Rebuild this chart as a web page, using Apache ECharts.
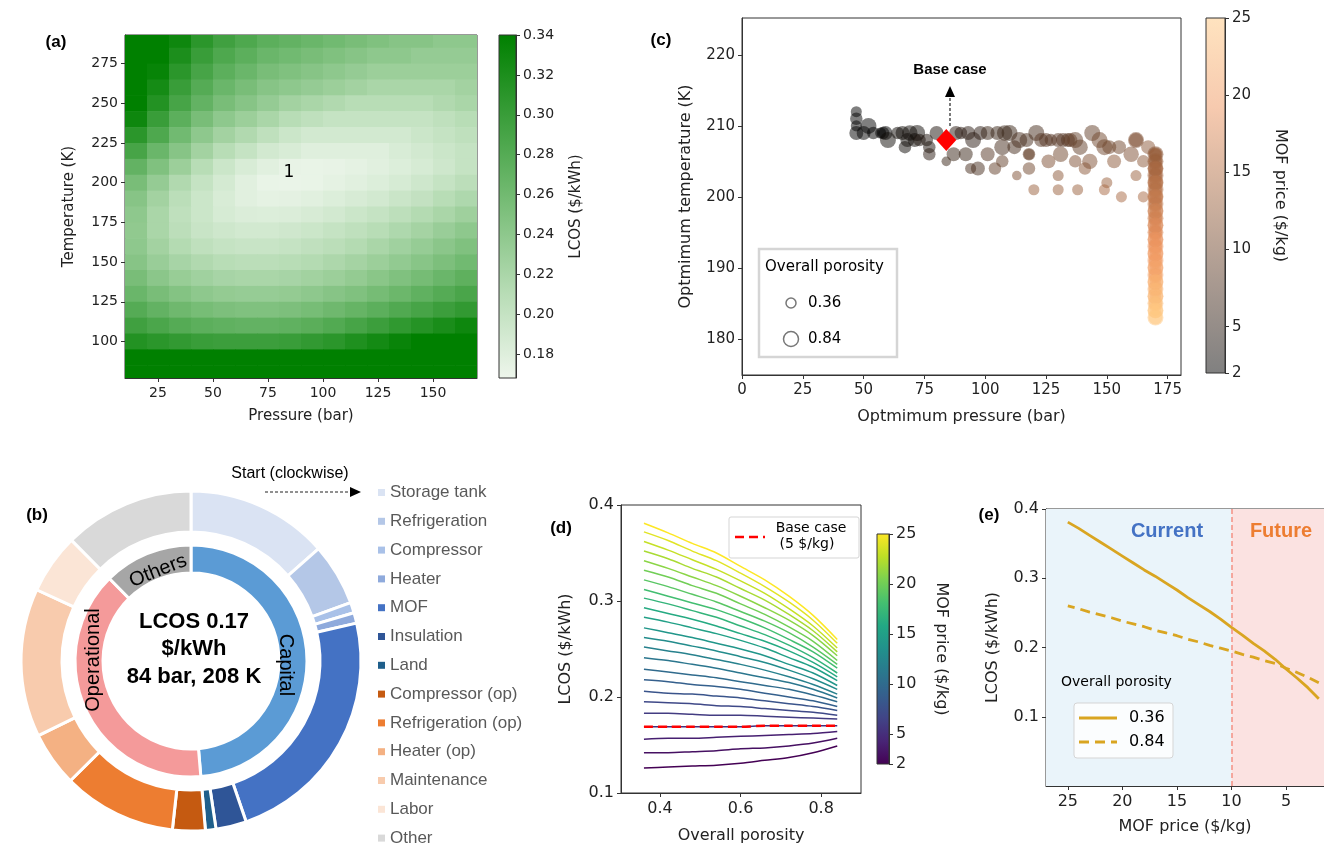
<!DOCTYPE html>
<html><head><meta charset="utf-8">
<script src="https://cdn.jsdelivr.net/npm/echarts@6.0.0/dist/echarts.min.js"></script>
<style>html,body{margin:0;padding:0;background:#fff;}#chart{width:1324px;height:845px;}</style>
</head><body><div id="chart"></div>
<script>
// ================= DATA =================
// (a) LCOS map: rows = temperature (K), columns = pressure (bar)
const aPressure = [15,25,35,45,55,65,75,85,95,105,115,125,135,145,155,165];
const aTemperature = [290,280,270,260,250,240,230,220,210,200,190,180,170,160,150,140,130,120,110,100,90,80];
const aLCOS = [
 [0.34,0.34,0.33,0.31,0.295,0.285,0.275,0.27,0.265,0.26,0.255,0.25,0.245,0.245,0.24,0.24],
 [0.34,0.34,0.32,0.30,0.285,0.275,0.265,0.26,0.255,0.25,0.245,0.24,0.24,0.235,0.235,0.235],
 [0.34,0.335,0.31,0.29,0.275,0.265,0.255,0.25,0.245,0.24,0.235,0.23,0.23,0.23,0.23,0.23],
 [0.34,0.325,0.30,0.28,0.265,0.255,0.245,0.24,0.235,0.23,0.225,0.22,0.22,0.22,0.22,0.225],
 [0.34,0.315,0.29,0.27,0.255,0.245,0.235,0.225,0.22,0.215,0.21,0.21,0.21,0.21,0.215,0.22],
 [0.33,0.30,0.275,0.255,0.24,0.23,0.22,0.21,0.205,0.20,0.20,0.20,0.20,0.20,0.205,0.21],
 [0.31,0.285,0.26,0.24,0.225,0.215,0.205,0.195,0.19,0.19,0.19,0.19,0.19,0.195,0.20,0.205],
 [0.29,0.265,0.245,0.225,0.21,0.20,0.19,0.185,0.18,0.18,0.18,0.18,0.185,0.19,0.195,0.20],
 [0.27,0.25,0.23,0.21,0.195,0.185,0.178,0.173,0.172,0.173,0.175,0.178,0.182,0.187,0.193,0.20],
 [0.255,0.235,0.215,0.20,0.188,0.178,0.172,0.171,0.172,0.175,0.178,0.182,0.187,0.193,0.20,0.207],
 [0.245,0.225,0.208,0.195,0.185,0.178,0.175,0.176,0.178,0.182,0.186,0.19,0.196,0.202,0.21,0.217],
 [0.24,0.22,0.205,0.195,0.187,0.183,0.182,0.183,0.186,0.19,0.195,0.20,0.206,0.213,0.22,0.228],
 [0.238,0.22,0.207,0.198,0.193,0.19,0.19,0.192,0.195,0.20,0.205,0.21,0.217,0.224,0.232,0.24],
 [0.24,0.225,0.213,0.205,0.20,0.198,0.198,0.20,0.204,0.208,0.213,0.22,0.227,0.234,0.242,0.25],
 [0.245,0.232,0.222,0.215,0.21,0.208,0.208,0.21,0.213,0.218,0.224,0.23,0.237,0.244,0.252,0.26],
 [0.255,0.242,0.233,0.227,0.222,0.22,0.22,0.222,0.226,0.23,0.236,0.243,0.25,0.257,0.265,0.273],
 [0.265,0.255,0.247,0.24,0.236,0.234,0.234,0.236,0.24,0.245,0.25,0.257,0.264,0.272,0.28,0.288],
 [0.28,0.27,0.262,0.256,0.252,0.25,0.25,0.252,0.256,0.262,0.268,0.275,0.283,0.29,0.298,0.305],
 [0.295,0.287,0.28,0.275,0.272,0.27,0.27,0.272,0.276,0.282,0.29,0.298,0.306,0.314,0.322,0.33],
 [0.315,0.31,0.305,0.30,0.298,0.298,0.298,0.30,0.305,0.31,0.318,0.326,0.334,0.34,0.34,0.34],
 [0.34,0.34,0.34,0.34,0.34,0.34,0.34,0.34,0.34,0.34,0.34,0.34,0.34,0.34,0.34,0.34],
 [0.34,0.34,0.34,0.34,0.34,0.34,0.34,0.34,0.34,0.34,0.34,0.34,0.34,0.34,0.34,0.34]
];
const aXTicks = [25,50,75,100,125,150];
const aYTicks = [100,125,150,175,200,225,250,275];
const aBarTicks = [0.18,0.20,0.22,0.24,0.26,0.28,0.30,0.32,0.34];

// (b) cost breakdown (% of LCOS)
const bItems = ['Storage tank','Refrigeration','Compressor','Heater','MOF','Insulation','Land',
  'Compressor (op)','Refrigeration (op)','Heater (op)','Maintenance','Labor','Other'];
const bShares = [13.5,5.9,1.0,1.0,23.3,2.9,1.0,3.1,10.8,5.2,14.1,5.7,12.4];
const bGroups = ['Capital','Operational','Others'];
const bGroupShares = [48.6,38.9,12.4];

// (c) optimum conditions: [pressure, temperature, overall porosity, MOF price]
const cBand = [
 [47,212,0.5,2],[47,211,0.6,2],[47,210,0.5,2],[47,209,0.7,2],[50,209,0.7,2],[52,210,0.84,2],[54,209,0.6,2],
 [57,209,0.5,2],[58,209,0.6,2],[59,209,0.7,2],[60,208,0.84,3],[64,209,0.6,3],[66,209,0.7,3],[67,207,0.6,3],
 [68,208,0.7,3],[69,209,0.8,3],[71,208,0.7,3],[72,209,0.84,3],[73,208,0.6,4],[76,208,0.6,4],[77,207,0.6,4],
 [80,209,0.7,4],[88,209,0.7,5],[90,209,0.6,5],[93,209,0.7,5],[95,208,0.84,5],[98,209,0.7,5],[101,209,0.7,6],
 [105,209,0.7,6],[108,209,0.8,6],[110,209,0.84,6],[107,207,0.84,7],[112,207,0.7,7],[114,208,0.84,7],
 [117,208,0.7,7],[121,209,0.84,7],[123,208,0.7,8],[125,208,0.7,8],[127,208,0.6,8],[130,208,0.7,8],
 [132,208,0.7,8],[134,208,0.7,8],[135,208,0.7,9],[137,208,0.84,9],[139,207,0.8,9],[144,209,0.84,9],
 [147,208,0.84,10],[149,207,0.84,10],[151,207,0.7,10],[155,207,0.7,10],[162,208,0.84,11],[162,208,0.7,11],
 [167,207,0.7,12],
 [77,206,0.6,5],[84,205,0.4,6],[87,206,0.7,6],[92,206,0.7,6],[94,204,0.5,7],[97,204,0.7,7],[101,206,0.7,8],
 [104,204,0.6,9],[107,205,0.6,9],[113,203,0.4,11],[118,206,0.6,9],[118,206,0.5,9],[118,204,0.6,10],
 [120,201,0.5,13],[126,205,0.7,11],[130,203,0.5,12],[130,201,0.5,13],[131,206,0.8,10],[137,205,0.6,11],
 [138,201,0.5,13],[141,204,0.6,12],[143,205,0.8,11],[150,202,0.5,13],[149,201,0.5,14],[153,205,0.7,12],
 [156,200,0.5,14],[160,206,0.8,11],[162,203,0.5,13],[165,200,0.5,14],[165,205,0.6,12]
];
const cColumn = [
 [170,206,0.84,12],[170,206,0.7,12],[170,206,0.6,13],[170,206,0.5,13],[170,205,0.84,13],[170,205,0.7,13],[170,205,0.6,13],
 [170,204,0.8,13],[170,204,0.84,14],[170,204,0.7,14],[170,204,0.5,14],[170,203,0.84,14],[170,203,0.7,14],[170,203,0.6,14],
 [170,202,0.8,14],[170,202,0.84,15],[170,202,0.7,15],[170,202,0.5,15],[170,201,0.84,15],[170,201,0.7,15],[170,201,0.6,15],
 [170,200,0.8,15],[170,200,0.84,16],[170,200,0.7,16],[170,200,0.5,16],[170,199,0.84,16],[170,199,0.7,16],[170,199,0.6,16],
 [170,198,0.8,16],[170,198,0.84,17],[170,198,0.5,17],[170,197,0.84,17],[170,197,0.7,17],[170,197,0.6,17],
 [170,196,0.8,17],[170,196,0.84,18],[170,196,0.5,18],[170,195,0.84,18],[170,195,0.7,18],[170,195,0.6,18],
 [170,194,0.8,18],[170,194,0.84,19],[170,194,0.5,19],[170,193,0.84,19],[170,193,0.7,19],[170,193,0.6,19],
 [170,192,0.8,19],[170,192,0.84,20],[170,192,0.5,20],[170,191,0.84,20],[170,191,0.7,20],[170,191,0.6,20],
 [170,190,0.8,20],[170,190,0.84,21],[170,190,0.5,21],[170,189,0.84,21],[170,189,0.7,21],[170,189,0.6,21],
 [170,188,0.8,22],[170,188,0.84,22],[170,188,0.5,22],[170,187,0.84,22],[170,187,0.7,23],[170,187,0.6,23],
 [170,186,0.8,23],[170,186,0.84,23],[170,186,0.5,23],[170,185,0.84,24],[170,185,0.7,24],[170,185,0.6,24],
 [170,184,0.8,24],[170,184,0.84,25],[170,184,0.5,25],[170,183,0.84,25],[170,183,0.7,25]
];
const cBase = [84,208];
const cXTicks = [0,25,50,75,100,125,150,175];
const cYTicks = [180,190,200,210,220];
const priceTicks = [2,5,10,15,20,25];

// (d) LCOS vs overall porosity for MOF prices 2..25 $/kg
const dPorosity = [0.36,0.42,0.48,0.54,0.60,0.66,0.72,0.78,0.84];
const dPrice = [2,3,4,5,6,7,8,9,10,11,12,13,14,15,16,17,18,19,20,21,22,23,24,25];
const dLCOS = [
 [0.126,0.127,0.128,0.129,0.131,0.134,0.137,0.142,0.149],
 [0.142,0.142,0.143,0.144,0.146,0.147,0.149,0.152,0.157],
 [0.156,0.157,0.157,0.158,0.159,0.160,0.161,0.162,0.164],
 [0.169,0.169,0.169,0.169,0.169,0.170,0.170,0.170,0.170],
 [0.183,0.183,0.182,0.181,0.181,0.180,0.179,0.178,0.177],
 [0.195,0.194,0.193,0.191,0.190,0.188,0.186,0.184,0.181],
 [0.206,0.204,0.203,0.201,0.199,0.196,0.193,0.190,0.186],
 [0.218,0.216,0.213,0.211,0.208,0.204,0.200,0.196,0.190],
 [0.229,0.226,0.223,0.220,0.216,0.212,0.208,0.202,0.195],
 [0.241,0.238,0.234,0.230,0.225,0.220,0.215,0.208,0.199],
 [0.252,0.248,0.244,0.239,0.234,0.228,0.221,0.213,0.203],
 [0.262,0.258,0.253,0.248,0.242,0.236,0.228,0.219,0.208],
 [0.272,0.267,0.262,0.256,0.250,0.243,0.234,0.225,0.212],
 [0.283,0.278,0.272,0.266,0.259,0.251,0.241,0.231,0.217],
 [0.293,0.287,0.281,0.274,0.266,0.258,0.248,0.236,0.221],
 [0.303,0.297,0.290,0.283,0.274,0.265,0.254,0.241,0.225],
 [0.312,0.305,0.298,0.291,0.282,0.272,0.260,0.247,0.230],
 [0.322,0.315,0.307,0.299,0.289,0.279,0.267,0.252,0.234],
 [0.332,0.325,0.316,0.308,0.297,0.286,0.273,0.258,0.238],
 [0.342,0.334,0.325,0.316,0.305,0.293,0.280,0.264,0.243],
 [0.352,0.344,0.334,0.325,0.313,0.301,0.286,0.269,0.247],
 [0.362,0.353,0.343,0.333,0.321,0.308,0.292,0.274,0.251],
 [0.372,0.363,0.352,0.342,0.329,0.315,0.299,0.280,0.256],
 [0.381,0.371,0.360,0.350,0.336,0.322,0.305,0.285,0.260]
];
const dBasePrice = 5;
const dXTicks = [0.4,0.6,0.8];
const dYTicks = [0.1,0.2,0.3,0.4];

// (e) LCOS vs MOF price at the two porosity extremes (from panel d)
const ePrice = dPrice;
const eLow = dLCOS.map(r => r[0]);            // porosity 0.36
const eHigh = dLCOS.map(r => r[r.length-1]);  // porosity 0.84
const eXTicks = [5,10,15,20,25];
const eYTicks = [0.1,0.2,0.3,0.4];
const eSplitPrice = 10;

// ================= STYLE =================
const DV = 'DejaVu Sans', LS = 'Liberation Sans';
const GREENS = ['#eef6ec','#b7dcb5','#7abe79','#3d9f3d','#008000'];
const COPPER = ['#000000','#503220','#a0643f','#ef955f','#ffc77f'];
const COPPER_BAR = ['#808080','#a89990','#d0b29f','#f7caaf','#ffe3bf'];
const VIRIDIS = ['#440154','#482475','#414487','#355f8d','#2a788e','#21918c','#22a884','#44bf70','#7ad151','#bddf26','#fde725'];
const B_COLORS = ['#dae3f3','#b4c7e7','#a9c1e8','#8faadc','#4472c4','#2f5597','#1f5f8b',
  '#c55a11','#ed7d31','#f4b183','#f8cbad','#fbe5d6','#d9d9d9'];
const B_GROUP_COLORS = ['#5b9bd5','#f49a9a','#a6a6a6'];
const GOLD = '#d9a521';

function hex(c){return [parseInt(c.slice(1,3),16),parseInt(c.slice(3,5),16),parseInt(c.slice(5,7),16)];}
function interp(stops, t){
  t = Math.max(0, Math.min(1, t));
  const n = stops.length-1, f = t*n, i = Math.min(Math.floor(f), n-1), u = f-i;
  const a = hex(stops[i]), b = hex(stops[i+1]);
  return 'rgb(' + a.map((v,k)=>Math.round(v+(b[k]-v)*u)).join(',') + ')';
}
function vGrad(stops){ // top = high end
  const cs = stops.slice().reverse().map((c,i,arr)=>({offset:i/(arr.length-1), color:c}));
  return new echarts.graphic.LinearGradient(0,0,0,1,cs);
}

function mkAxis(o){
  const a = {
    type:'value', gridIndex:o.grid, min:o.min, max:o.max, inverse:!!o.inverse,
    position:o.position, show:o.show!==false,
    axisLine:{show:true, onZero:false, lineStyle:{color:'#333', width:1}},
    axisTick:{show:true, length:4, lineStyle:{color:'#333', width:1}},
    splitLine:{show:false},
    axisLabel:{color:'#222', fontSize:o.fs, fontFamily:DV, margin:o.margin||7},
    name:o.name||'', nameLocation:'middle', nameGap:o.nameGap||0,
    nameTextStyle:{color:'#222', fontSize:o.nameFs||o.fs, fontFamily:DV}
  };
  if (o.nameRotate !== undefined) a.nameRotate = o.nameRotate;
  if (o.fmt) a.axisLabel.formatter = o.fmt;
  if (o.ticks){ a.axisLabel.customValues = o.ticks; a.axisTick.customValues = o.ticks; }
  return a;
}
const hidden = g => ({type:'value', gridIndex:g, show:false, min:0, max:1});

// ================= BUILD =================
const heatData = [];
aTemperature.forEach((t,i)=>aPressure.forEach((p,j)=>heatData.push([p,t,aLCOS[i][j]])));

const grid = [
  {left:125, top:35, width:352, height:343, show:true, borderColor:'#333', borderWidth:1, backgroundColor:'transparent'},
  {left:499, top:35, width:17, height:343, show:true, borderColor:'#333', borderWidth:1, backgroundColor:vGrad(GREENS)},
  {left:742, top:18, width:439, height:357, show:true, borderColor:'#333', borderWidth:1, backgroundColor:'#fff'},
  {left:1206, top:18, width:19, height:355, show:true, borderColor:'#333', borderWidth:1, backgroundColor:vGrad(COPPER_BAR)},
  {left:621, top:505, width:240, height:288, show:true, borderColor:'#333', borderWidth:1, backgroundColor:'#fff'},
  {left:877, top:534, width:12, height:230, show:true, borderColor:'#333', borderWidth:1, backgroundColor:vGrad(VIRIDIS)},
  {left:1046, top:509, width:279, height:277, show:true, borderColor:'#333', borderWidth:1, backgroundColor:'#fff'}
];

const xAxis = [
  mkAxis({grid:0, min:10, max:170, ticks:aXTicks, fs:14, name:'Pressure (bar)', nameGap:31, nameFs:15, margin:8}),
  hidden(1),
  mkAxis({grid:2, min:0, max:180.5, ticks:cXTicks, fs:15, name:'Optmimum pressure (bar)', nameGap:34, nameFs:16, margin:8}),
  hidden(3),
  mkAxis({grid:4, min:0.303, max:0.899, ticks:dXTicks, fs:16, name:'Overall porosity', nameGap:35, nameFs:16, margin:8}),
  hidden(5),
  mkAxis({grid:6, min:1.52, max:27, inverse:true, ticks:eXTicks, fs:16, name:'MOF price ($/kg)', nameGap:33, nameFs:16, margin:8})
];
const yAxis = [
  mkAxis({grid:0, min:77, max:293, ticks:aYTicks, fs:14, name:'Temperature (K)', nameGap:48, nameFs:15, nameRotate:90}),
  mkAxis({grid:1, min:0.168, max:0.34, ticks:aBarTicks, fs:14, position:'right', fmt:v=>v.toFixed(2), name:'LCOS ($/kWh)', nameGap:53, nameFs:15, nameRotate:90}),
  mkAxis({grid:2, min:174.9, max:225.2, ticks:cYTicks, fs:15, name:'Optmimum temperature (K)', nameGap:48, nameFs:16, nameRotate:90}),
  mkAxis({grid:3, min:2, max:25, ticks:priceTicks, fs:15, position:'right', name:'MOF price ($/kg)', nameGap:47, nameFs:16, nameRotate:-90}),
  mkAxis({grid:4, min:0.1, max:0.4, ticks:dYTicks, fs:16, fmt:v=>v.toFixed(1), name:'LCOS ($/kWh)', nameGap:47, nameFs:16, nameRotate:90}),
  mkAxis({grid:5, min:2, max:25, ticks:priceTicks, fs:16, position:'right', name:'MOF price ($/kg)', nameGap:44, nameFs:16, nameRotate:-90}),
  mkAxis({grid:6, min:0, max:0.4, ticks:eYTicks, fs:16, fmt:v=>v.toFixed(1), name:'LCOS ($/kWh)', nameGap:45, nameFs:16, nameRotate:90})
];

const series = [];
// 0: heat map (a)
series.push({
  type:'custom', xAxisIndex:0, yAxisIndex:0, clip:true, silent:true,
  data:heatData, encode:{x:0, y:1},
  renderItem:function(params, api){
    const x = api.value(0), y = api.value(1);
    const p0 = api.coord([x-5, y+5]), p1 = api.coord([x+5, y-5]);
    return {type:'rect', shape:{x:p0[0], y:p0[1], width:p1[0]-p0[0]+0.6, height:p1[1]-p0[1]+0.6},
            style:{fill:api.visual('color')}};
  }
});
const sizeFn = v => 9 + (v[2]-0.36)/0.48*7;
// 1,2: scatter (c)
series.push({type:'scatter', xAxisIndex:2, yAxisIndex:2, data:cBand, symbolSize:sizeFn, itemStyle:{opacity:0.5}, silent:true, z:2});
series.push({type:'scatter', xAxisIndex:2, yAxisIndex:2, data:cColumn, symbolSize:sizeFn, itemStyle:{opacity:0.5}, silent:true, z:2});
// 3: base case
series.push({type:'scatter', xAxisIndex:2, yAxisIndex:2, data:[cBase], symbol:'diamond', symbolSize:[20,22], itemStyle:{color:'#ff0000', opacity:1}, silent:true, z:5});
// (d) lines
dPrice.forEach((p,i)=>{
  series.push({type:'line', xAxisIndex:4, yAxisIndex:4, data:dPorosity.map((x,j)=>[x,dLCOS[i][j]]),
    smooth:0.3, symbol:'none', silent:true, z:2,
    lineStyle:{color:interp(VIRIDIS,(p-2)/23), width:1.5}});
});
const bi = dPrice.indexOf(dBasePrice);
series.push({type:'line', xAxisIndex:4, yAxisIndex:4, data:dPorosity.map((x,j)=>[x,dLCOS[bi][j]]),
  smooth:0.3, symbol:'none', silent:true, z:4, lineStyle:{color:'#ff0000', width:2.5, type:[9,5]}});
// (e) background regions
series.push({type:'line', xAxisIndex:6, yAxisIndex:6, data:ePrice.map((p,i)=>[p,eLow[i]]),
  symbol:'none', silent:true, z:1, lineStyle:{opacity:0},
  markArea:{silent:true, data:[
    [{xAxis:27, itemStyle:{color:'#eaf4fa'}},{xAxis:eSplitPrice}],
    [{xAxis:eSplitPrice, itemStyle:{color:'#fbe2e1'}},{xAxis:1.52}]
  ]},
  markLine:{silent:true, symbol:['none','none'], label:{show:false},
    lineStyle:{color:'#f4968a', width:1.6, type:[5,3]}, data:[{xAxis:eSplitPrice}]}
});
series.push({type:'line', xAxisIndex:6, yAxisIndex:6, data:ePrice.map((p,i)=>[p,eLow[i]]),
  symbol:'none', silent:true, z:3, lineStyle:{color:GOLD, width:2.8}});
series.push({type:'line', xAxisIndex:6, yAxisIndex:6, data:ePrice.map((p,i)=>[p,eHigh[i]]),
  symbol:'none', silent:true, z:3, lineStyle:{color:GOLD, width:2.8, type:[10,6]}});
// (b) pies
series.push({type:'pie', center:[191,661], radius:[129,170], startAngle:90, clockwise:true, silent:true,
  label:{show:false}, labelLine:{show:false}, itemStyle:{borderColor:'#fff', borderWidth:3},
  data:bItems.map((n,i)=>({name:n, value:bShares[i], itemStyle:{color:B_COLORS[i]}}))});
series.push({type:'pie', center:[191,661], radius:[88,116], startAngle:90, clockwise:true, silent:true,
  label:{show:false}, labelLine:{show:false}, itemStyle:{borderColor:'#fff', borderWidth:3},
  data:bGroups.map((n,i)=>({name:n, value:bGroupShares[i], itemStyle:{color:B_GROUP_COLORS[i]}}))});

const T = (text, x, y, font, extra) => Object.assign({type:'text', x:x, y:y, z:100, silent:true,
  style:Object.assign({text:text, font:font, fill:'#000', align:'center', verticalAlign:'middle'}, (extra&&extra.style)||{})},
  extra&&extra.rotation!==undefined ? {rotation:extra.rotation} : {});

const graphic = [
  // panel labels
  T('(a)', 56, 42, 'bold 17px "Liberation Sans"'),
  T('(b)', 37, 515, 'bold 17px "Liberation Sans"'),
  T('(c)', 661, 40, 'bold 17px "Liberation Sans"'),
  T('(d)', 561, 528, 'bold 17px "Liberation Sans"'),
  T('(e)', 989, 515, 'bold 17px "Liberation Sans"'),
  // (a) contour label
  T('1', 289, 173, '17px "DejaVu Sans"'),
  // (c) base case annotation
  T('Base case', 950, 70, 'bold 15px "Liberation Sans"'),
  {type:'line', z:100, silent:true, shape:{x1:950, y1:126, x2:950, y2:97}, style:{stroke:'#333', lineWidth:1.3, lineDash:[3,2]}},
  {type:'polygon', z:100, silent:true, shape:{points:[[945,97],[955,97],[950,86]]}, style:{fill:'#000'}},
  // (c) legend
  {type:'rect', z:99, silent:true, shape:{x:759, y:249, width:138, height:108}, style:{fill:'#fff', stroke:'#d5d5d5', lineWidth:2.5}},
  T('Overall porosity', 765, 267, '15px "DejaVu Sans"', {style:{align:'left'}}),
  {type:'circle', z:100, silent:true, shape:{cx:791, cy:303, r:5}, style:{fill:'none', stroke:'#777', lineWidth:1.5}},
  T('0.36', 808, 303, '15px "DejaVu Sans"', {style:{align:'left'}}),
  {type:'circle', z:100, silent:true, shape:{cx:791, cy:339, r:7.5}, style:{fill:'none', stroke:'#777', lineWidth:1.5}},
  T('0.84', 808, 339, '15px "DejaVu Sans"', {style:{align:'left'}}),
  // (d) legend
  {type:'rect', z:99, silent:true, shape:{x:729, y:517, width:130, height:41, r:2}, style:{fill:'#fff', stroke:'#d5d5d5', lineWidth:1}},
  {type:'line', z:100, silent:true, shape:{x1:735, y1:537, x2:765, y2:537}, style:{stroke:'#ff0000', lineWidth:2.5, lineDash:[9,5]}},
  T('Base case', 811, 528, '14px "DejaVu Sans"'),
  T('(5 $/kg)', 807, 544, '14px "DejaVu Sans"'),
  // (e) annotations + legend
  T('Current', 1167, 531, 'bold 20px "Liberation Sans"', {style:{fill:'#4472c4'}}),
  T('Future', 1281, 531, 'bold 20px "Liberation Sans"', {style:{fill:'#ed7d31'}}),
  T('Overall porosity', 1061, 682, '14px "DejaVu Sans"', {style:{align:'left'}}),
  {type:'rect', z:99, silent:true, shape:{x:1074, y:703, width:99, height:55, r:3}, style:{fill:'rgba(255,255,255,0.8)', stroke:'#d5d5d5', lineWidth:1}},
  {type:'line', z:100, silent:true, shape:{x1:1079, y1:718, x2:1117, y2:718}, style:{stroke:GOLD, lineWidth:2.8}},
  T('0.36', 1129, 718, '16px "DejaVu Sans"', {style:{align:'left'}}),
  {type:'line', z:100, silent:true, shape:{x1:1079, y1:742, x2:1117, y2:742}, style:{stroke:GOLD, lineWidth:2.8, lineDash:[10,6]}},
  T('0.84', 1129, 742, '16px "DejaVu Sans"', {style:{align:'left'}}),
  // (b) ring labels and centre text
  T('Capital', 286, 665, '20px "Liberation Sans"', {rotation:-Math.PI/2}),
  T('Operational', 93, 660, '20px "Liberation Sans"', {rotation:Math.PI/2}),
  T('Others', 158, 571, '20px "Liberation Sans"', {rotation:0.38}),
  T('LCOS 0.17\n$/kWh\n84 bar, 208 K', 194, 649, 'bold 22px "Liberation Sans"', {style:{lineHeight:27.5}}),
  T('Start (clockwise)', 290, 474, '16px "Liberation Sans"'),
  {type:'line', z:100, silent:true, shape:{x1:265, y1:492, x2:350, y2:492}, style:{stroke:'#222', lineWidth:1.2, lineDash:[3,2]}},
  {type:'polygon', z:100, silent:true, shape:{points:[[350,487],[350,497],[361,492]]}, style:{fill:'#000'}}
];

const chart = echarts.init(document.getElementById('chart'), null, {renderer:'canvas'});
chart.setOption({
  animation:false,
  backgroundColor:'#fff',
  textStyle:{fontFamily:DV},
  grid:grid, xAxis:xAxis, yAxis:yAxis,
  visualMap:[
    {type:'continuous', show:false, seriesIndex:0, dimension:2, min:0.168, max:0.34, inRange:{color:GREENS}},
    {type:'continuous', show:false, seriesIndex:[1,2], dimension:3, min:2, max:25, inRange:{color:COPPER}}
  ],
  legend:{data:bItems, orient:'vertical', left:373, top:479, height:400, itemWidth:7, itemHeight:7, itemGap:11.8,
    itemTextGap:4, icon:'rect', selectedMode:false, itemStyle:{borderWidth:0},
    textStyle:{fontSize:17, color:'#595959', fontFamily:LS}},
  series:series,
  graphic:graphic
});
</script>
</body></html>
